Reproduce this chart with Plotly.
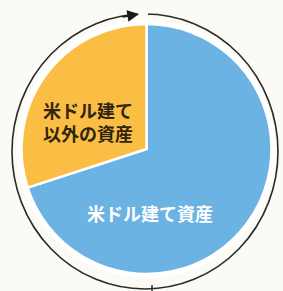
import plotly.graph_objects as go

labels = ["米ドル建て資産", "米ドル建て以外の資産"]
values = [70, 30]
colors = ["#6BB3E3", "#FBBE45"]
label_lines = ["米ドル建て資産", "米ドル建て<br>以外の資産"]

W, H = 283, 291
BG = "#FBFAF5"

def px(x):
    return x / W

def py(y):
    return 1 - y / H

fig = go.Figure(go.Pie(
    labels=labels, values=values, sort=False, direction="clockwise", rotation=0,
    marker=dict(colors=colors, line=dict(color="white", width=2.5)),
    textinfo="none", hoverinfo="label+percent", showlegend=False,
    domain=dict(x=[px(21), px(272)], y=[py(274), py(24)]),
))

shapes = [
    # white rim behind pie
    dict(type="circle", xref="paper", yref="paper", layer="below",
         x0=px(17), x1=px(276), y0=py(278), y1=py(20),
         fillcolor="white", line=dict(width=0)),
    # outer outline circle
    dict(type="circle", xref="paper", yref="paper", layer="above",
         x0=px(12), x1=px(278), y0=py(289), y1=py(14),
         line=dict(color="#2a2a2a", width=1.6)),
    # gap at the top
    dict(type="rect", xref="paper", yref="paper", layer="above",
         x0=px(138), x1=px(148), y0=py(20), y1=py(8),
         fillcolor=BG, line=dict(width=0)),
    # small tick at the bottom
    dict(type="line", xref="paper", yref="paper", layer="above",
         x0=px(152), x1=px(152), y0=py(291), y1=py(285),
         line=dict(color="#2a2a2a", width=1.5)),
]

annotations = [
    dict(x=px(139), y=py(14), xref="paper", yref="paper", text="",
         showarrow=True, arrowhead=2, arrowsize=1.3, arrowwidth=1.8,
         arrowcolor="#1a1a1a", ax=-18, ay=3),
    dict(x=px(88), y=py(121), xref="paper", yref="paper", text=label_lines[1],
         showarrow=False, align="center", xanchor="center", yanchor="middle",
         font=dict(family="Noto Sans CJK JP", size=18, color="#2e2410", weight="bold")),
    dict(x=px(150), y=py(213), xref="paper", yref="paper", text=label_lines[0],
         showarrow=False, align="center", xanchor="center", yanchor="middle",
         font=dict(family="Noto Sans CJK JP", size=18, color="white", weight="bold")),
]

fig.update_layout(
    width=W, height=H, margin=dict(l=0, r=0, t=0, b=0),
    paper_bgcolor=BG, plot_bgcolor=BG,
    shapes=shapes, annotations=annotations,
)

fig.write_html(
    "out.html",
    config={"displayModeBar": False},
    post_script="document.body.style.margin='0';document.body.style.overflow='hidden';"
                "document.documentElement.style.overflow='hidden';",
)
